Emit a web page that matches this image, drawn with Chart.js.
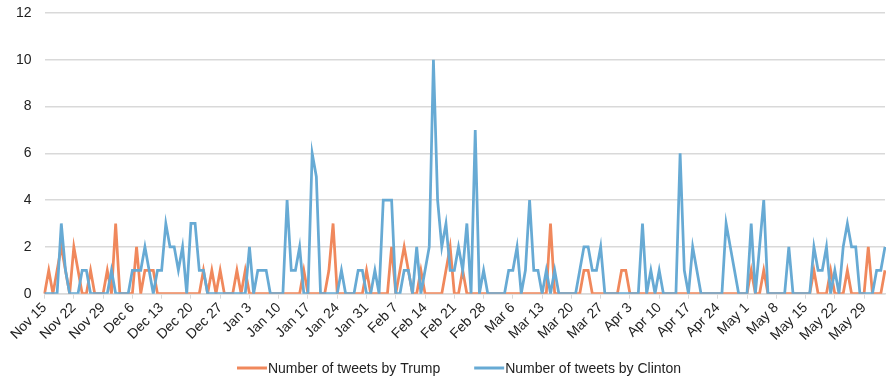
<!DOCTYPE html>
<html>
<head>
<meta charset="utf-8">
<script src="https://cdn.jsdelivr.net/npm/chart.js@4/dist/chart.umd.min.js"></script>
<style>
  html, body { margin: 0; padding: 0; background: #ffffff; }
  #wrap { width: 886px; height: 381px; position: relative; }
</style>
</head>
<body>
<div id="wrap"><canvas id="chart"></canvas></div>
<script>
// Daily categories: Nov 15, 2015 through Jun 3, 2016
const monthNames = ['Jan', 'Feb', 'Mar', 'Apr', 'May', 'Jun', 'Jul', 'Aug', 'Sep', 'Oct', 'Nov', 'Dec'];
const firstDay = Date.UTC(2015, 10, 15);
const dayCount = 202;
const days = Array.from({ length: dayCount }, (_, i) => {
  const d = new Date(firstDay + i * 86400000);
  return monthNames[d.getUTCMonth()] + ' ' + d.getUTCDate();
});

// Tweets per day, one row per week (Sunday to Saturday)
const trumpTweets = [
  0, 1, 0, 1, 2, 1, 0,
  2, 1, 0, 0, 1, 0, 0,
  0, 1, 0, 3, 0, 0, 0,
  0, 2, 0, 1, 1, 1, 0,
  0, 0, 0, 0, 0, 0, 0,
  0, 0, 0, 1, 0, 1, 0,
  1, 0, 0, 0, 1, 0, 1,
  0, 0, 0, 0, 0, 0, 0,
  0, 0, 0, 0, 0, 0, 1,
  0, 0, 0, 0, 0, 1, 3,
  0, 0, 0, 0, 0, 0, 0,
  1, 0, 0, 0, 0, 0, 2,
  0, 1, 2, 1, 0, 0, 1,
  0, 0, 0, 0, 0, 1, 2,
  0, 0, 1, 0, 0, 0, 0,
  0, 0, 0, 0, 0, 0, 0,
  0, 0, 0, 0, 0, 0, 0,
  0, 0, 3, 0, 0, 0, 0,
  0, 0, 0, 1, 1, 0, 0,
  0, 0, 0, 0, 0, 1, 1,
  0, 0, 0, 0, 0, 0, 0,
  0, 0, 0, 0, 0, 0, 0,
  0, 0, 0, 0, 0, 0, 0,
  0, 0, 0, 0, 0, 0, 0,
  0, 1, 0, 0, 1, 0, 0,
  0, 0, 0, 0, 0, 0, 0,
  0, 0, 1, 0, 0, 0, 1,
  0, 0, 0, 1, 0, 0, 0,
  0, 2, 0, 0, 0, 1
];

const clintonTweets = [
  0, 0, 0, 0, 3, 1, 0,
  0, 0, 1, 1, 0, 0, 0,
  0, 0, 1, 0, 0, 0, 0,
  1, 1, 1, 2, 1, 0, 1,
  1, 3, 2, 2, 1, 2, 0,
  3, 3, 1, 1, 0, 0, 0,
  0, 0, 0, 0, 0, 0, 0,
  2, 0, 1, 1, 1, 0, 0,
  0, 0, 4, 1, 1, 2, 0,
  0, 6, 5, 0, 0, 0, 0,
  0, 1, 0, 0, 0, 1, 1,
  0, 0, 1, 0, 4, 4, 4,
  0, 0, 1, 1, 0, 2, 0,
  1, 2, 10, 4, 2, 3, 1,
  1, 2, 1, 3, 0, 7, 0,
  1, 0, 0, 0, 0, 0, 1,
  1, 2, 0, 1, 4, 1, 1,
  0, 1, 0, 1, 0, 0, 0,
  0, 0, 1, 2, 2, 1, 1,
  2, 0, 0, 0, 0, 0, 0,
  0, 0, 0, 3, 0, 1, 0,
  1, 0, 0, 0, 0, 6, 1,
  0, 2, 1, 0, 0, 0, 0,
  0, 0, 3, 2, 1, 0, 0,
  0, 3, 0, 2, 4, 0, 0,
  0, 0, 0, 2, 0, 0, 0,
  0, 0, 2, 1, 1, 2, 0,
  1, 0, 2, 3, 2, 2, 0,
  0, 0, 0, 1, 1, 2
];

const seriesLabels = ['Number of tweets by Trump', 'Number of tweets by Clinton'];
const seriesColors = ['#F0885C', '#67AAD4'];
const yTicks = [0, 2, 4, 6, 8, 10, 12];
const labelEvery = 7;

const textFont = '"Liberation Sans", Arial, sans-serif';
const textColor = '#222222';
const gridColor = '#d9d9d9';

// Legend drawn under the axis: short line sample followed by the series name
const lineLegend = {
  id: 'lineLegend',
  afterDraw(chart) {
    const ctx = chart.ctx;
    ctx.save();
    ctx.font = '14px ' + textFont;
    ctx.textBaseline = 'middle';
    const sample = 30, gap = 1, spacing = 34;
    const items = chart.data.datasets.map(ds => ({ ds, w: ctx.measureText(ds.label).width }));
    const total = items.reduce((s, it) => s + sample + gap + it.w, 0) + spacing * (items.length - 1);
    let x = (chart.width - total) / 2 + 16;
    const y = chart.height - 13;
    items.forEach(it => {
      ctx.strokeStyle = it.ds.borderColor;
      ctx.lineWidth = 3;
      ctx.beginPath();
      ctx.moveTo(x, y);
      ctx.lineTo(x + sample, y);
      ctx.stroke();
      ctx.fillStyle = textColor;
      ctx.fillText(it.ds.label, x + sample + gap, y + 1);
      x += sample + gap + it.w + spacing;
    });
    ctx.restore();
  }
};

new Chart(document.getElementById('chart'), {
  type: 'line',
  data: {
    labels: days,
    datasets: [
      {
        label: seriesLabels[0],
        data: trumpTweets,
        borderColor: seriesColors[0],
        backgroundColor: seriesColors[0],
        borderWidth: 2.75,
        pointRadius: 0,
        tension: 0,
        order: 2
      },
      {
        label: seriesLabels[1],
        data: clintonTweets,
        borderColor: seriesColors[1],
        backgroundColor: seriesColors[1],
        borderWidth: 2.75,
        pointRadius: 0,
        tension: 0,
        order: 1
      }
    ]
  },
  options: {
    responsive: true,
    maintainAspectRatio: false,
    devicePixelRatio: 1,
    animation: false,
    layout: { padding: { left: 3, top: 13, right: 1, bottom: 36 } },
    plugins: {
      legend: { display: false },
      tooltip: { enabled: false }
    },
    scales: {
      x: {
        type: 'category',
        offset: false,
        afterBuildTicks: axis => {
          axis.ticks = axis.ticks.filter(t => t.value % labelEvery === 0);
        },
        afterFit: axis => {
          // rotated labels may hang past the left edge of the plot
          axis.paddingLeft = 0;
          axis.paddingRight = 0;
        },
        ticks: {
          autoSkip: false,
          maxRotation: 45,
          minRotation: 45,
          padding: 1,
          color: textColor,
          font: { family: textFont, size: 14 }
        },
        grid: {
          drawOnChartArea: false,
          drawTicks: true,
          tickLength: 5,
          color: gridColor
        },
        border: { display: true, color: gridColor, width: 1.5 }
      },
      y: {
        min: yTicks[0],
        max: yTicks[yTicks.length - 1],
        afterBuildTicks: axis => {
          axis.ticks = yTicks.map(v => ({ value: v }));
        },
        afterFit: axis => {
          // top label may sit in the outer margin
          axis.paddingTop = 0;
          axis.paddingBottom = 0;
        },
        ticks: {
          padding: 13,
          color: textColor,
          font: { family: textFont, size: 14 }
        },
        grid: {
          color: gridColor,
          lineWidth: 1.5,
          drawTicks: false
        },
        border: { display: false }
      }
    }
  },
  plugins: [lineLegend]
});
</script>
</body>
</html>
